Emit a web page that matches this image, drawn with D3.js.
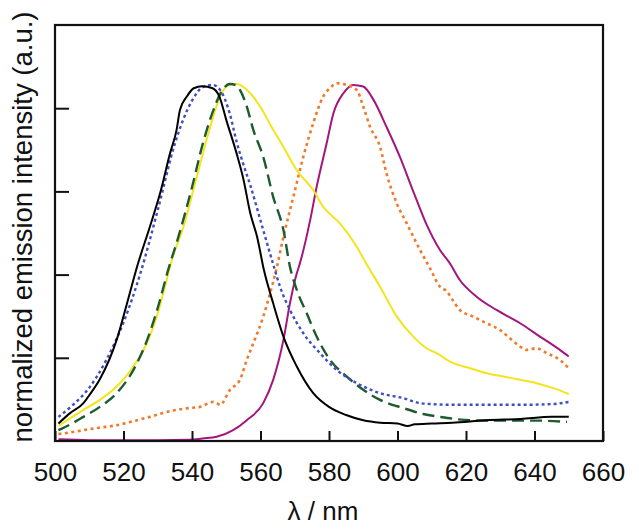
<!DOCTYPE html>
<html><head><meta charset="utf-8">
<script src="https://cdn.jsdelivr.net/npm/d3@7"></script>
<style>body{margin:0;background:#fff}text{font-family:"Liberation Sans",Arial,sans-serif;fill:#111}</style>
</head><body><svg id="c" width="639" height="531"></svg>
<script>
const xTicks = [500,520,540,560,580,600,620,640,660];
const yTicks = [0.2,0.4,0.6,0.8];
const xTitle = "λ / nm";
const yTitle = "normalized emission intensity (a.u.)";

const blackWl = [501,504.4,508.3,510,513,518,521,524,527.7,530.7,533.6,535.5,536.5,538.5,540.5,543,546,548,550,553,555,557,559,561,563.7,566.7,570.6,575.4,580,585,590,595,600,603,605,610,616,626,636,645,650];
const blackV  = [0.042,0.067,0.091,0.11,0.147,0.243,0.33,0.42,0.515,0.596,0.692,0.748,0.796,0.828,0.848,0.853,0.848,0.828,0.772,0.692,0.63,0.548,0.491,0.411,0.331,0.251,0.179,0.115,0.082,0.0625,0.05,0.044,0.042,0.036,0.04,0.042,0.044,0.05,0.053,0.058,0.058];

const blueWl = [501,505,510,515,520,525,530,535,540,543,546,548.2,551.1,553,555,557,560.8,563.7,565.7,568.6,572.5,577.4,582.2,588.1,594.9,601.7,606.6,609.5,616.3,626,635.8,645.5,650];
const blueV  = [0.058,0.085,0.128,0.195,0.285,0.405,0.555,0.715,0.818,0.85,0.856,0.844,0.785,0.72,0.665,0.615,0.507,0.425,0.371,0.315,0.259,0.211,0.171,0.139,0.115,0.103,0.091,0.089,0.087,0.087,0.087,0.089,0.094];

const yellowWl = [501,504.5,508.3,513.1,518,522.9,526.8,529.7,532.6,534.1,537.5,541.4,545.3,548.2,550.1,552,553,557,559.9,563.7,566.7,570.6,575.4,578.3,583.2,588.1,591,594.9,599.8,604.6,608.5,611.4,616.3,621.2,626,630.9,635.8,640.6,645.5,650];
const yellowV  = [0.036,0.055,0.075,0.099,0.131,0.179,0.235,0.299,0.387,0.435,0.515,0.635,0.755,0.828,0.852,0.858,0.858,0.836,0.804,0.748,0.707,0.651,0.603,0.563,0.523,0.467,0.425,0.371,0.299,0.251,0.223,0.211,0.187,0.175,0.163,0.155,0.147,0.139,0.127,0.113];

const greenWl = [501,504.5,508.3,513.1,518,522.9,527,530,533,536,540,543,546,549,551,553,554,556,557.9,560.8,563.7,566.7,568.6,570.6,573.5,576.4,580.3,585.2,590,594.9,601.7,607.5,612.4,621.2,630.9,640.6,649.5];
const greenV  = [0.026,0.04,0.058,0.082,0.115,0.171,0.245,0.32,0.41,0.49,0.61,0.71,0.79,0.845,0.858,0.855,0.844,0.804,0.748,0.683,0.587,0.507,0.419,0.363,0.307,0.251,0.195,0.155,0.123,0.099,0.079,0.065,0.058,0.05,0.049,0.049,0.046];

const orangeWl = [501,504,508.3,513,518,523,527.7,531,535.5,539,542.3,546.2,547.2,548.2,551.1,554,556,557.9,560.8,562.8,564.7,566.7,569.6,572.5,575.4,578.3,580.5,582.2,585.2,588.1,590,592,594.9,596.8,599.8,602.7,606.6,609.5,612.4,614.4,616,618.2,622.1,626,629.9,632.8,635.8,637.7,640.6,643.6,647.4,650];
const orangeV  = [0.017,0.02,0.026,0.032,0.038,0.048,0.058,0.066,0.075,0.079,0.082,0.094,0.091,0.087,0.123,0.147,0.195,0.235,0.299,0.355,0.415,0.491,0.587,0.683,0.764,0.828,0.85,0.86,0.856,0.844,0.804,0.755,0.707,0.643,0.571,0.523,0.459,0.415,0.371,0.36,0.34,0.315,0.299,0.283,0.267,0.247,0.227,0.219,0.223,0.211,0.195,0.175];

const magentaWl = [501,510,520,530,539.4,543,547.2,552,556,560.8,563.7,566.7,568.6,570.6,571.5,574.5,576.4,579.3,581.3,584.2,587.1,590,593,596.8,600.7,604.6,608.5,612.4,615.3,618.2,623.1,628.9,635.8,641.6,647.4,650];
const magentaV  = [0.004,0.002,0.002,0.002,0.003,0.006,0.01,0.026,0.05,0.091,0.147,0.243,0.331,0.403,0.427,0.531,0.611,0.715,0.788,0.836,0.856,0.852,0.82,0.755,0.683,0.6,0.52,0.459,0.427,0.387,0.347,0.315,0.283,0.251,0.219,0.203];

const seriesDefs = [
  {wl: magentaWl, v: magentaV, color: "#a3167e", dash: null, w: 2},
  {wl: orangeWl, v: orangeV, color: "#f07a2a", dash: "3,3.5", w: 2.6},
  {wl: yellowWl, v: yellowV, color: "#f4e41c", dash: null, w: 2},
  {wl: greenWl, v: greenV, color: "#1e5b2f", dash: "12,6", w: 2.4},
  {wl: blueWl, v: blueV, color: "#3f4fc2", dash: "3,3", w: 2.4},
  {wl: blackWl, v: blackV, color: "#000000", dash: null, w: 2}
];

const svg = d3.select("#c");
const L = 55, R = 603, T = 25, B = 441;
const x = d3.scaleLinear().domain([500,660]).range([L,R]);
const y = d3.scaleLinear().domain([0,1]).range([B,T]);

const line = d3.line().x(d => x(d[0])).y(d => y(d[1])).curve(d3.curveMonotoneX);
seriesDefs.forEach(s => {
  const pts = s.wl.map((w,i) => [w, s.v[i]]);
  svg.append("path").attr("d", line(pts)).attr("fill","none")
    .attr("stroke", s.color).attr("stroke-width", s.w)
    .attr("stroke-dasharray", s.dash)
    .attr("stroke-linejoin","round");
});

// axes: inward ticks
const xAxis = d3.axisBottom(x).tickValues(xTicks).tickSizeInner(-10).tickSizeOuter(0).tickPadding(22).tickFormat(d3.format("d"));
const gx = svg.append("g").attr("transform", `translate(0,${B})`).call(xAxis);
gx.select(".domain").remove();
gx.selectAll("line").attr("stroke","#111").attr("stroke-width",2);
gx.selectAll("text").attr("font-size",26).style("font-family",'"Liberation Sans",Arial,sans-serif').attr("fill","#111");

const yAxis = d3.axisLeft(y).tickValues(yTicks).tickSizeInner(-14).tickSizeOuter(0).tickFormat("");
const gy = svg.append("g").attr("transform", `translate(${L},0)`).call(yAxis);
gy.select(".domain").remove();
gy.selectAll("line").attr("stroke","#111").attr("stroke-width",2);

svg.append("rect").attr("x",L).attr("y",T).attr("width",R-L).attr("height",B-T)
  .attr("fill","none").attr("stroke","#111").attr("stroke-width",2.2);

svg.append("text").attr("x",323).attr("y",520).attr("text-anchor","middle")
  .attr("font-size",26).text(xTitle);
svg.append("text").attr("transform","translate(32,227) rotate(-90)").attr("text-anchor","middle")
  .attr("font-size",27.5).text(yTitle);
</script></body></html>
